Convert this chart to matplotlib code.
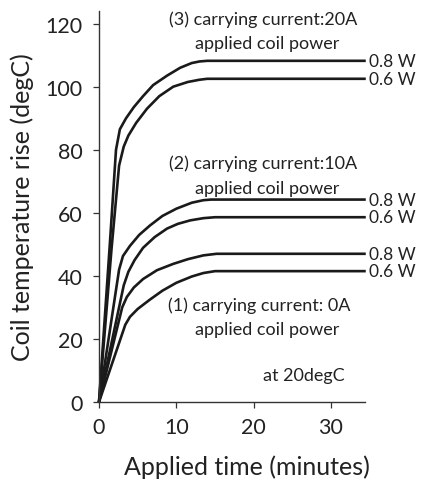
import matplotlib
matplotlib.use('Agg')
import matplotlib.pyplot as plt

plt.rcParams['font.family'] = ['Lato', 'DejaVu Sans']

# time (minutes) and coil temperature rise (degC)
t_3_08 = [0, 1.4, 2.2, 2.7, 3.5, 4.5, 5.7, 7.0, 8.8, 10.5, 12.0, 13.0, 14.0, 34.5]
y_3_08 = [0, 50, 80, 86.5, 90, 93.5, 97, 100.5, 103.5, 106, 107.5, 108, 108.2, 108.2]
t_3_06 = [0, 1.6, 2.6, 3.2, 3.8, 4.8, 6.2, 7.8, 9.6, 11.5, 13.0, 14.0, 15.0, 34.5]
y_3_06 = [0, 48, 75, 81, 84.5, 88.5, 93, 97, 100, 101.5, 102.2, 102.5, 102.5, 102.5]

t_2_08 = [0, 2.6, 3.1, 4.0, 5.2, 6.6, 8.2, 10.0, 12.0, 13.5, 14.5, 34.5]
y_2_08 = [0, 42, 46.3, 49.5, 53, 56, 59, 61.3, 63.2, 64, 64.2, 64.2]
t_2_06 = [0, 3.2, 3.8, 4.6, 5.7, 7.2, 8.8, 10.2, 11.8, 13.5, 15.0, 34.5]
y_2_06 = [0, 37, 41.3, 45, 48.9, 52.3, 55, 56.5, 57.6, 58.3, 58.6, 58.6]

t_1_08 = [0, 3.0, 3.6, 4.5, 5.7, 7.5, 9.6, 11.5, 13.5, 15.2, 34.5]
y_1_08 = [0, 30, 33.3, 36.3, 39, 41.8, 43.8, 45.3, 46.5, 47, 47]
t_1_06 = [0, 3.4, 4.0, 5.0, 6.6, 8.2, 10.0, 12.0, 13.5, 15.0, 34.5]
y_1_06 = [0, 24.5, 27, 29.5, 32.5, 35.3, 37.8, 39.8, 40.9, 41.5, 41.5]

curves = [(t_3_08, y_3_08, '0.8 W'), (t_3_06, y_3_06, '0.6 W'),
          (t_2_08, y_2_08, '0.8 W'), (t_2_06, y_2_06, '0.6 W'),
          (t_1_08, y_1_08, '0.8 W'), (t_1_06, y_1_06, '0.6 W')]

xticks = [0, 10, 20, 30]
yticks = [0, 20, 40, 60, 80, 100, 120]

ink = '#222222'

fig = plt.figure(figsize=(4.24, 4.85), dpi=100)
ax = fig.add_axes([99 / 424, 1 - 403 / 485, 266 / 424, 391 / 485])

for t, y, lab in curves:
    ax.plot(t, y, color='#1a1a1a', lw=1.9, solid_capstyle='butt', clip_on=False)
    ax.text(34.9, y[-1], lab, fontsize=12.5, va='center', ha='left', color=ink)

ax.set_xlim(0, 34.4)
ax.set_ylim(0, 124)
ax.set_xticks(xticks)
ax.set_yticks(yticks)
ax.tick_params(labelsize=15.5, colors='#333333', labelcolor=ink, length=4, width=0.9)
ax.tick_params(axis='y', pad=8)
ax.tick_params(axis='x', pad=7)
for s in ['top', 'right']:
    ax.spines[s].set_visible(False)
for s in ['left', 'bottom']:
    ax.spines[s].set_color('#333333')
    ax.spines[s].set_linewidth(1.0)

ax.set_xlabel('Applied time (minutes)', fontsize=18, color=ink)
ax.set_ylabel('Coil temperature rise (degC)', fontsize=18, color=ink)
ax.xaxis.set_label_coords(0.556, -0.135)
ax.yaxis.set_label_coords(-0.245, 0.5)

ax.text(21.2, 121.6, '(3) carrying current:20A', fontsize=13, ha='center', va='center', color=ink)
ax.text(21.7, 114, 'applied coil power', fontsize=13, ha='center', va='center', color=ink)
ax.text(21.2, 75.9, '(2) carrying current:10A', fontsize=13, ha='center', va='center', color=ink)
ax.text(21.7, 68, 'applied coil power', fontsize=13, ha='center', va='center', color=ink)
ax.text(20.7, 30.8, '(1) carrying current: 0A', fontsize=13, ha='center', va='center', color=ink)
ax.text(21.7, 23.2, 'applied coil power', fontsize=13, ha='center', va='center', color=ink)
ax.text(31.8, 8.6, 'at 20degC', fontsize=13, ha='right', va='center', color=ink)

fig.savefig('out.png', dpi=100)
